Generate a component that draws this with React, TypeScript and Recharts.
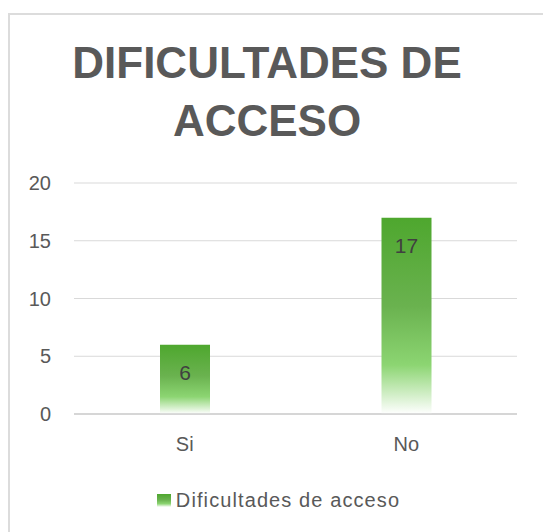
import React from 'react';
import { BarChart, Bar, XAxis, YAxis, CartesianGrid, Legend, LabelList } from 'recharts';

const categories = ['Si', 'No'];
const values = [6, 17];
const yTicks = [0, 5, 10, 15, 20];
const seriesName = 'Dificultades de acceso';
const chartTitle = ['DIFICULTADES DE', 'ACCESO'];

const data = categories.map((c, i) => ({ name: c, value: values[i] }));

const textColor = '#595959';
const font = '"Liberation Sans", Arial, sans-serif';

const GreenGradient = ({ id }: { id: string }) => (
    <linearGradient id={id} x1="0" y1="0" x2="0" y2="1">
        <stop offset="0%" stopColor="#4EA72E" />
        <stop offset="45%" stopColor="#6AB24F" />
        <stop offset="75%" stopColor="#8CD572" />
        <stop offset="100%" stopColor="#FFFFFF" />
    </linearGradient>
);

const renderLegend = () => (
    <div style={{ display: 'flex', justifyContent: 'center', alignItems: 'center', height: 20, fontFamily: font, fontSize: 20, color: textColor }}>
        <svg width={15} height={14} style={{ marginRight: 4 }}>
            <defs><GreenGradient id="legendGrad" /></defs>
            <rect x={0} y={1} width={14} height={13} fill="url(#legendGrad)" />
        </svg>
        <span style={{ letterSpacing: 1.1 }}>{seriesName}</span>
    </div>
);

const App: React.FC = () => {
    return (
        <div style={{ position: 'fixed', left: 8, top: 13, width: 535, height: 519, background: '#fff' }}>
            <div style={{ position: 'absolute', left: 0, top: 0, right: 0, bottom: 0, borderTop: '2px solid #dcdcdc', borderLeft: '2px solid #dcdcdc' }} />
            <div style={{ position: 'absolute', top: 21, left: 0, width: 518, textAlign: 'center', fontFamily: font, fontWeight: 'bold', fontSize: 44, lineHeight: '58px', color: textColor }}>
                {chartTitle.map((t) => <div key={t}>{t}</div>)}
            </div>
            <div style={{ position: 'absolute', left: 0, top: 0 }}>
                <BarChart width={535} height={519} data={data} margin={{ top: 170, right: 26, left: 6, bottom: 68 }}>
                    <defs><GreenGradient id="barGrad" /></defs>
                    <CartesianGrid vertical={false} stroke="#d9d9d9" />
                    <XAxis dataKey="name" height={30} tickLine={false} tickSize={0} tickMargin={23}
                        axisLine={{ stroke: '#cfcfcf', strokeWidth: 1.5 }}
                        tick={{ fill: textColor, fontSize: 20, fontFamily: font }} />
                    <YAxis width={60} domain={[0, 20]} ticks={yTicks} axisLine={false} tickLine={false} tickSize={0} tickMargin={23}
                        tick={{ fill: textColor, fontSize: 20, fontFamily: font }} />
                    <Legend verticalAlign="bottom" content={renderLegend} wrapperStyle={{ left: 3, width: 535, bottom: 22 }} />
                    <Bar dataKey="value" name={seriesName} fill="url(#barGrad)" barSize={50} isAnimationActive={false}>
                        <LabelList dataKey="value" position="insideTop" offset={20} fill="#404040" fontSize={21} fontFamily={font} />
                    </Bar>
                </BarChart>
            </div>
        </div>
    );
};

export default App;
